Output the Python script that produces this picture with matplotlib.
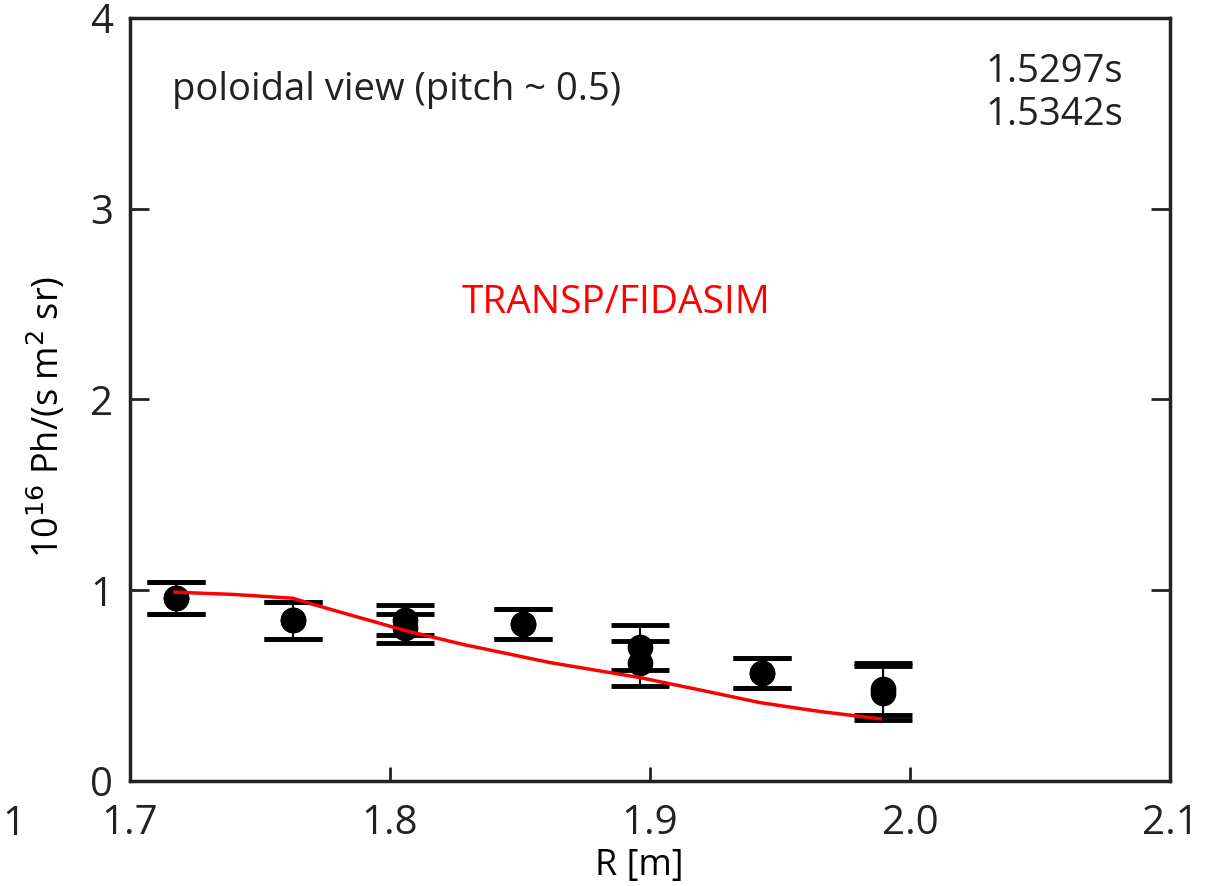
import matplotlib.pyplot as plt

plt.rcParams['font.family'] = ['Open Sans', 'DejaVu Sans']

# measured FIDA radiance, two time slices
R_meas = [1.7177, 1.7627, 1.8058, 1.8511, 1.8962, 1.9431, 1.9896]
rad_t1 = [0.958, 0.842, 0.845, 0.821, 0.700, 0.568, 0.484]
err_t1 = [0.084, 0.095, 0.077, 0.079, 0.116, 0.079, 0.137]
rad_t2 = [0.958, 0.842, 0.800, 0.821, 0.618, 0.568, 0.463]
err_t2 = [0.084, 0.095, 0.074, 0.079, 0.118, 0.079, 0.142]
times = ['1.5297s', '1.5342s']

# simulated profile
R_sim = [1.7173, 1.7400, 1.7627, 1.7704, 1.8058, 1.8281, 1.8615, 1.8962, 1.9200, 1.9423, 1.9650, 1.9885]
rad_sim = [0.99, 0.978, 0.958, 0.926, 0.789, 0.716, 0.621, 0.542, 0.475, 0.411, 0.365, 0.326]

fig = plt.figure(figsize=(12.1, 8.86), dpi=100)
ax = fig.add_axes([0.1074, 0.1185, 0.8596, 0.8612])

for rad, err in [(rad_t1, err_t1), (rad_t2, err_t2)]:
    ax.errorbar(R_meas, rad, yerr=err, fmt='o', color='black', ms=17.5,
                elinewidth=1.5, capsize=21, capthick=3.5, zorder=3)
ax.plot(R_sim, rad_sim, color='red', lw=2.5, zorder=4)

ax.set_xlim(1.7, 2.1)
ax.set_ylim(0, 4)
ax.set_xticks([1.7, 1.8, 1.9, 2.0, 2.1])
ax.set_xticklabels(['1.7', '1.8', '1.9', '2.0', '2.1'])
ax.set_yticks([0, 1, 2, 3, 4])
ax.tick_params(direction='in', width=2, labelsize=29,
               colors='#222222', right=True)
ax.tick_params(axis='y', length=14, pad=12)
ax.tick_params(axis='x', length=10, pad=16)
for s in ax.spines.values():
    s.set_linewidth(2.5)
    s.set_color('#222222')

ax.set_xlabel('R [m]', fontsize=26, labelpad=3, x=0.49)
ax.set_ylabel(r'10$^{16}$ Ph/(s m$^{2}$ sr)', fontsize=26, labelpad=16, y=0.477)

ax.text(0.0404, 0.8925, 'poloidal view (pitch ~ 0.5)', transform=ax.transAxes,
        fontsize=27.5, color='#222222', va='baseline')
ax.text(0.955, 0.916, times[0], transform=ax.transAxes, fontsize=27.5,
        color='#222222', ha='right', va='baseline')
ax.text(0.955, 0.860, times[1], transform=ax.transAxes, fontsize=27.5,
        color='#222222', ha='right', va='baseline')
ax.text(0.319, 0.613, 'TRANSP/FIDASIM', transform=ax.transAxes, fontsize=28,
        color='red', va='baseline')
fig.text(0.002, 0.057, '1', fontsize=29, color='#222222')

fig.savefig('out.png', dpi=100)
